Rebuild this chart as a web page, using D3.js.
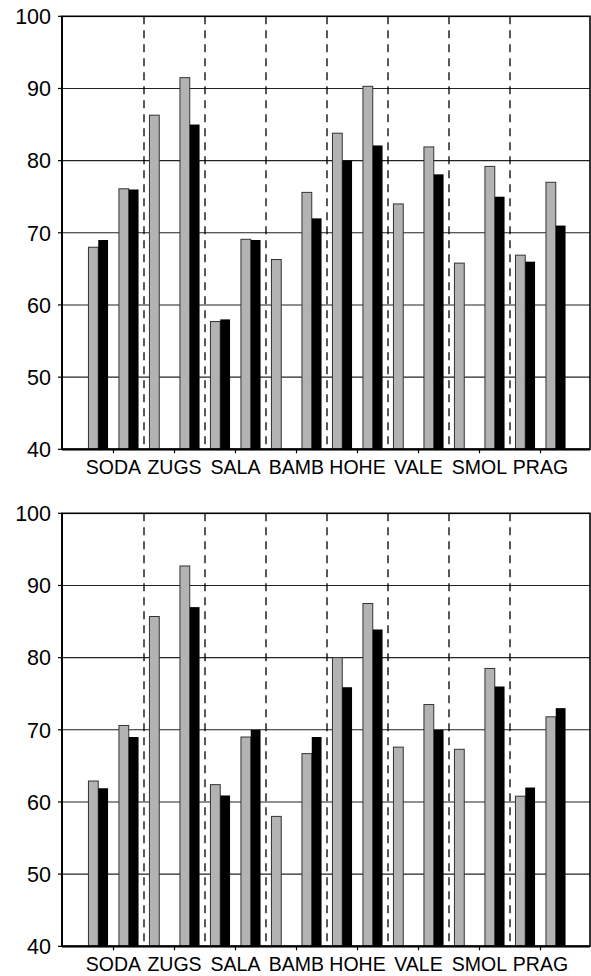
<!DOCTYPE html>
<html><head><meta charset="utf-8">
<script src="https://cdn.jsdelivr.net/npm/d3@7"></script>
<style>body{margin:0;background:#fff}svg{display:block}text{font-family:"Liberation Sans",Arial,sans-serif;fill:#000}</style>
</head><body><svg id="c" width="591" height="976"></svg>
<script>
const categories = ["SODA","ZUGS","SALA","BAMB","HOHE","VALE","SMOL","PRAG"];
const yTicks = [40,50,60,70,80,90,100];
// top panel
const topGray1  = [68, 86.3, 57.7, 66.3, 83.8, 74, 65.8, 66.9];
const topBlack1 = [69, null, 58, null, 80, null, null, 66];
const topGray2  = [76.1, 91.5, 69.1, 75.6, 90.3, 81.9, 79.2, 77];
const topBlack2 = [76, 85, 69, 72, 82.1, 78.1, 75, 71];
// bottom panel
const botGray1  = [62.9, 85.7, 62.4, 58, 80, 67.6, 67.3, 60.8];
const botBlack1 = [61.9, null, 60.9, null, 75.9, null, null, 62];
const botGray2  = [70.6, 92.7, 69, 66.7, 87.5, 73.5, 78.5, 71.8];
const botBlack2 = [69, 87, 70, 69, 83.9, 70, 76, 73];

const svg = d3.select("#c");
const L = 62, R = 590;

function panel(top, bottom, g1, b1, g2, b2) {
  const g = svg.append("g");
  const y = d3.scaleLinear().domain([40,100]).range([bottom, top]);
  const x = d3.scaleBand().domain(categories).range([83, 571]).paddingInner(0).paddingOuter(0);
  const sub = d3.scaleBand().domain(["g1","g2"]).range([0, x.bandwidth()]);
  const bw = 9.8;

  // horizontal gridlines
  g.append("g").selectAll("line").data(yTicks.filter(d => d > 40 && d < 100)).join("line")
    .attr("x1", L).attr("x2", R).attr("y1", d => y(d)).attr("y2", d => y(d))
    .attr("stroke", "#222").attr("stroke-width", 1.1);
  // vertical dashed separators
  g.append("g").selectAll("line").data(categories.slice(1)).join("line")
    .attr("x1", d => x(d)).attr("x2", d => x(d)).attr("y1", top).attr("y2", bottom)
    .attr("stroke", "#000").attr("stroke-width", 1.3).attr("stroke-dasharray", "8,6");

  const rows = [];
  categories.forEach((c, i) => {
    [["g1", g1[i], b1[i]], ["g2", g2[i], b2[i]]].forEach(([k, gv, bv]) => {
      const cx = x(c) + sub(k) + sub.bandwidth() / 2;
      if (gv != null) rows.push({x: cx - bw, v: gv, type: "gray"});
      if (bv != null) rows.push({x: cx, v: bv, type: "black"});
    });
  });
  g.append("g").selectAll("rect").data(rows).join("rect")
    .attr("x", d => d.x).attr("width", bw)
    .attr("y", d => y(d.v)).attr("height", d => y(40) - y(d.v))
    .attr("fill", d => d.type === "gray" ? "#b3b3b3" : "#000")
    .attr("stroke", d => d.type === "gray" ? "#333" : "#000")
    .attr("stroke-width", d => d.type === "gray" ? 1 : 0);

  // frame
  g.append("rect").attr("x", L).attr("y", top).attr("width", R - L).attr("height", bottom - top)
    .attr("fill", "none").attr("stroke", "#000").attr("stroke-width", 1.6);
  g.append("line").attr("x1", L).attr("x2", R).attr("y1", bottom).attr("y2", bottom)
    .attr("stroke", "#000").attr("stroke-width", 2.2);
  g.append("line").attr("x1", L).attr("x2", L).attr("y1", top).attr("y2", bottom)
    .attr("stroke", "#000").attr("stroke-width", 1.8);

  // y axis ticks and labels
  g.append("g").selectAll("line").data(yTicks).join("line")
    .attr("x1", L - 4).attr("x2", L).attr("y1", d => y(d)).attr("y2", d => y(d))
    .attr("stroke", "#000").attr("stroke-width", 1.2);
  g.append("g").selectAll("text").data(yTicks).join("text")
    .attr("x", 51).attr("y", d => y(d)).attr("dy", "0.36em")
    .attr("text-anchor", "end").attr("font-size", 21.5).text(d => d);

  // x ticks and labels
  g.append("g").selectAll("line").data(categories).join("line")
    .attr("x1", d => x(d) + x.bandwidth()/2).attr("x2", d => x(d) + x.bandwidth()/2)
    .attr("y1", bottom).attr("y2", bottom + 4).attr("stroke", "#000").attr("stroke-width", 1.2);
  g.append("g").selectAll("text").data(categories).join("text")
    .attr("x", d => x(d) + x.bandwidth()/2).attr("y", bottom + 25)
    .attr("text-anchor", "middle").attr("font-size", 19.5).text(d => d);
}

panel(16.3, 449.3, topGray1, topBlack1, topGray2, topBlack2);
panel(513.3, 946.3, botGray1, botBlack1, botGray2, botBlack2);
</script></body></html>
